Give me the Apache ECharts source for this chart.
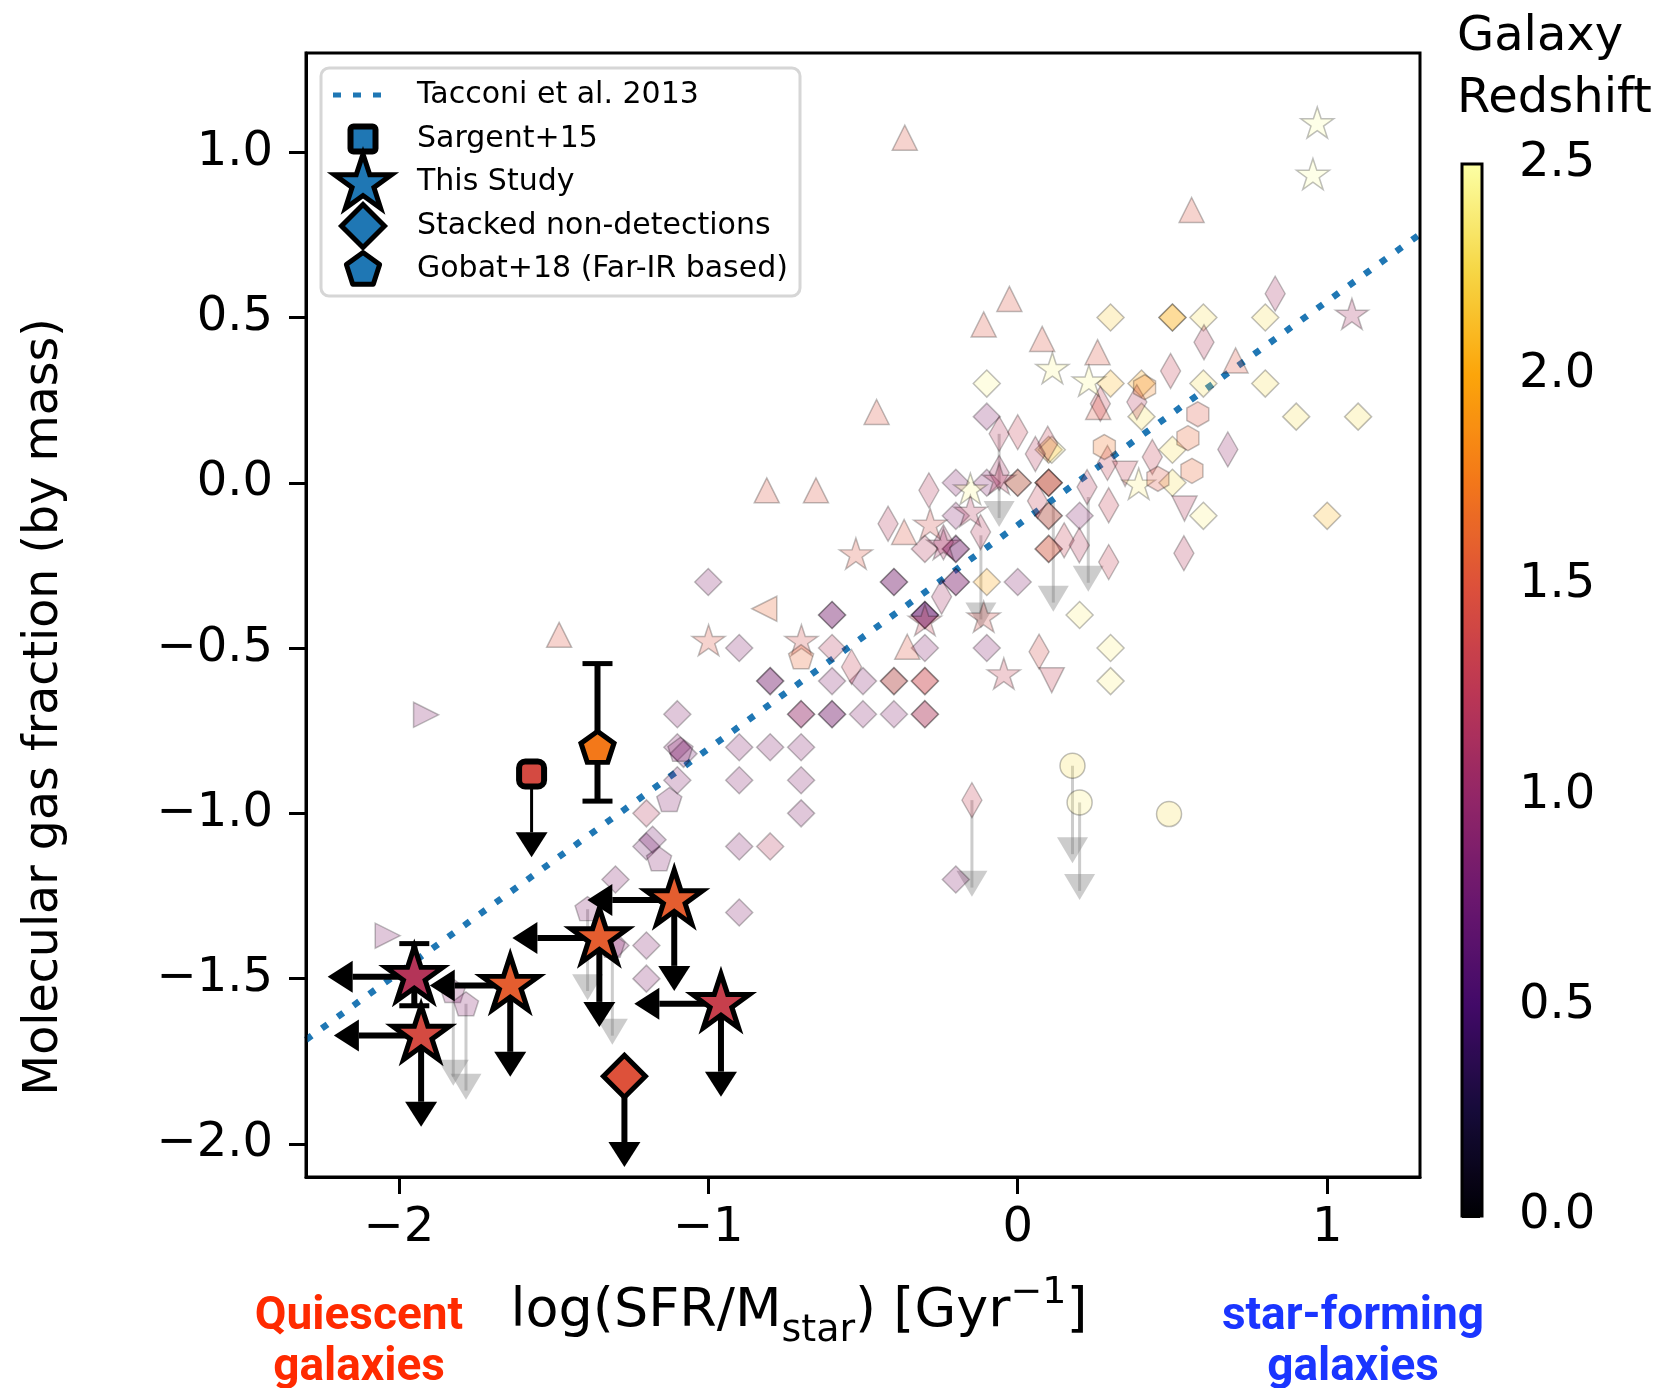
<!DOCTYPE html>
<html><head><meta charset="utf-8">
<script src="https://cdn.jsdelivr.net/npm/echarts@6/dist/echarts.min.js"></script>
<style>html,body{margin:0;padding:0;background:#fff}#c{width:1662px;height:1388px}</style>
</head><body><div id="c"></div>
<script>
// ---------------- data ----------------
const xTicks = [-2, -1, 0, 1];
const yTicks = [-2, -1.5, -1, -0.5, 0, 0.5, 1];
const zTicks = [0, 0.5, 1, 1.5, 2, 2.5];
const tacconiLine = [[-2.3, -1.685], [1.3, 0.752]];

// background literature points: [log sSFR, log fgas, redshift]
const bgDiamonds = [
 [0.3,0.5,2.2],[0.5,0.5,2.0],[0.5,0.5,2.1],[0.6,0.5,2.3],[0.8,0.5,2.3],
 [-0.1,0.3,2.45],[0.3,0.3,2.1],[0.4,0.3,2.0],[0.6,0.3,2.3],[0.8,0.3,2.3],
 [-0.1,0.2,0.9],[0.4,0.2,2.3],[0.9,0.2,2.3],[1.1,0.2,2.3],
 [0.1,0.1,2.0],[0.11,0.1,2.4],[0.5,0.1,2.3],
 [-0.2,0,0.9],[-0.1,0,0.9],[0,0,2.0],[0,0,0.9],[0.1,0,2.0],[0.1,0,0.8],[0.1,0,1.5],[0.5,0,2.3],
 [-0.2,-0.1,0.9],[0.1,-0.1,1.9],[0.1,-0.1,0.9],[0.2,-0.1,0.9],[0.6,-0.1,2.4],[1.0,-0.1,2.1],
 [-0.3,-0.2,1.2],[-0.2,-0.2,0.8],[-0.2,-0.2,0.8],[0.1,-0.2,1.8],[0.1,-0.2,1.2],
 [-1.0,-0.3,0.9],[-0.4,-0.3,0.8],[-0.4,-0.3,0.8],[-0.2,-0.3,0.8],[-0.2,-0.3,0.9],[-0.1,-0.3,2.0],[0,-0.3,0.9],
 [-0.6,-0.4,0.8],[-0.6,-0.4,0.8],[-0.3,-0.4,0.7],[-0.3,-0.4,0.7],[-0.3,-0.4,0.7],[0.2,-0.4,2.4],
 [-0.9,-0.5,0.9],[-0.6,-0.5,1.2],[-0.3,-0.5,0.9],[-0.1,-0.5,0.9],[0.3,-0.5,2.4],
 [-0.8,-0.6,0.8],[-0.8,-0.6,0.8],[-0.6,-0.6,0.9],[-0.5,-0.6,0.9],[-0.4,-0.6,1.8],[-0.4,-0.6,0.9],[-0.3,-0.6,1.3],[-0.3,-0.6,1.4],[0.3,-0.6,2.4],
 [-1.1,-0.7,0.9],[-0.7,-0.7,1.0],[-0.7,-0.7,1.0],[-0.6,-0.7,0.8],[-0.6,-0.7,0.8],[-0.5,-0.7,0.9],[-0.4,-0.7,0.9],[-0.3,-0.7,1.4],[-0.3,-0.7,1.0],
 [-1.1,-0.8,0.9],[-1.08,-0.82,0.8],[-0.9,-0.8,0.9],[-0.8,-0.8,0.9],[-0.7,-0.8,0.9],
 [-1.1,-0.9,0.9],[-0.9,-0.9,0.9],[-0.7,-0.9,0.9],
 [-1.2,-1.0,1.2],[-0.7,-1.0,0.9],
 [-1.2,-1.1,0.8],[-1.18,-1.08,0.8],[-0.9,-1.1,0.9],[-0.8,-1.1,1.2],
 [-1.3,-1.2,0.9],[-0.2,-1.2,0.9],
 [-0.9,-1.3,0.9],
 [-1.2,-1.4,0.9],[-1.3,-1.4,0.9],
 [-1.2,-1.5,0.9]
];
const bgThinDiamonds = [
 [0.832,0.572,1.1],[0.602,0.425,1.2],[0.494,0.338,1.3],[0.267,0.239,1.3],[0.385,0.244,1.2],
 [-0.06,0.148,1.2],[0.0,0.153,1.3],[0.097,0.118,1.3],[0.057,0.087,1.2],[0.679,0.101,1.0],
 [0.435,0.078,1.3],[0.29,0.06,1.3],[-0.06,0.03,1.1],[0.224,-0.013,1.2],[0.294,-0.068,1.3],
 [-0.287,-0.023,1.2],[-0.419,-0.124,1.2],[0.064,-0.055,1.3],[0.15,-0.174,1.3],[0.199,-0.189,1.2],
 [0.294,-0.24,1.3],[0.537,-0.213,1.2],[-0.12,-0.149,1.2],[-0.246,-0.345,1.1],[-0.24,-0.18,1.1],
 [-0.537,-0.557,1.3],[0.069,-0.511,1.4],[-0.148,-0.96,1.3]
];
const bgTriUp = [
 [-0.365,1.044,1.5],[0.562,0.825,1.5],[-0.027,0.556,1.5],[-0.11,0.479,1.5],[0.079,0.435,1.5],
 [0.258,0.395,1.5],[0.704,0.37,1.5],[-0.456,0.214,1.5],[0.26,0.229,1.5],[-0.811,-0.023,1.5],
 [-0.652,-0.023,1.5],[-0.367,-0.149,1.5],[-0.357,-0.496,1.5],[-1.482,-0.46,1.5]
];
const bgTriDown = [[0.539,-0.078,1.2],[0.11,-0.597,1.3],[0.347,0.027,1.3]];
const bgTriRight = [[-1.912,-0.702,0.9],[-2.036,-1.37,0.9]];
const bgTriLeft = [[-0.819,-0.381,1.6]];
const bgStars = [
 [0.968,1.085,2.5],[0.954,0.929,2.5],[0.112,0.342,2.45],[0.23,0.304,2.45],[-0.153,-0.023,2.45],
 [0.391,-0.008,2.4],[1.08,0.506,1.1],[-0.06,0.007,1.2],[-0.283,-0.129,1.4],[-0.153,-0.09,1.2],
 [-0.523,-0.219,1.5],[-0.999,-0.481,1.5],[-0.699,-0.481,1.4],[-0.11,-0.41,1.4],[-0.3,-0.42,1.3],
 [-0.045,-0.582,1.3],[-0.24,-0.19,1.1]
];
const bgPentagons = [
 [-1.126,-0.962,0.9],[-1.159,-1.141,0.9],[-1.39,-1.292,0.9],[-1.31,-1.403,0.9],
 [-1.826,-1.54,0.9],[-1.783,-1.58,0.9],[-0.70,-0.53,1.6],[-1.09,-0.81,0.9]
];
const bgHexagons = [[0.41,0.289,1.8],[0.582,0.207,1.5],[0.55,0.135,1.6],[0.563,0.036,1.6],[0.453,0.012,1.5],[0.28,0.108,1.7]];
const bgCircles = [[0.177,-0.856,2.3],[0.2,-0.967,2.4],[0.489,-1.002,2.3]];
// background upper limits: [x, yStart, x, yTip]
const bgLimits = [
 [-0.06,0.148,-0.06,-0.134],[-0.119,-0.159,-0.119,-0.441],[0.115,-0.06,0.115,-0.39],
 [0.228,-0.043,0.228,-0.33],[-0.148,-0.96,-0.148,-1.252],[0.177,-0.856,0.177,-1.151],
 [0.2,-0.967,0.2,-1.262],[-1.39,-1.29,-1.39,-1.565],[-1.31,-1.386,-1.31,-1.70],
 [-1.824,-1.538,-1.824,-1.824],[-1.783,-1.576,-1.783,-1.866]
];

// highlighted samples
const studyStars = [[-1.95,-1.494,1.2],[-1.928,-1.672,1.43],[-1.64,-1.521,1.58],[-1.352,-1.377,1.58],[-1.11,-1.262,1.58],[-0.959,-1.576,1.33]];
const studyLimits = [
 [-1.95,-1.494,-2.23,-1.494],
 [-1.928,-1.672,-2.21,-1.672],[-1.928,-1.672,-1.928,-1.948],
 [-1.64,-1.521,-1.90,-1.521],[-1.64,-1.521,-1.64,-1.797],
 [-1.352,-1.377,-1.633,-1.377],[-1.352,-1.377,-1.352,-1.646],
 [-1.11,-1.262,-1.391,-1.262],[-1.11,-1.262,-1.11,-1.537],
 [-0.959,-1.576,-1.239,-1.576],[-0.959,-1.576,-0.959,-1.857]
];
const sargent = [[-1.571,-0.881,1.43]];
const sargentLimit = [[-1.571,-0.881,-1.571,-1.133]];
const gobat = [[-1.358,-0.804,1.75]];
const stacked = [[-1.271,-1.795,1.5]];
const stackedLimit = [[-1.271,-1.795,-1.271,-2.07]];
// error bars: [x, yLow, yHigh]
const errBars = [[-1.95,-1.582,-1.394],[-1.358,-0.963,-0.547]];

// ---------------- styling helpers ----------------
const FONT = 'DejaVu Sans';
const INFERNO = ['#000004','#160b39','#420a68','#6a176e','#932667','#bc3754','#dd513a','#f37819','#fca50a','#f6d746','#fcffa4'];
const STAR_PATH = 'path://M100,0L77.55,69.1L4.9,69.1L63.67,111.8L41.22,180.9L100,138.2L158.78,180.9L136.33,111.8L195.1,69.1L122.45,69.1Z';
const PENT_PATH = 'path://M100,0L4.9,69.1L41.22,180.9L158.78,180.9L195.1,69.1Z';
const HEX_PATH = 'path://M100,0L13.4,50L13.4,150L100,200L186.6,150L186.6,50Z';
const fmt = v => (v < 0 ? '\u2212' : '') + Math.abs(v).toFixed(1);
const fmtInt = v => (v < 0 ? '\u2212' : '') + Math.abs(v).toFixed(0);

function bg(name, data, symbol, size, extra) {
  return Object.assign({
    type: 'scatter', name, data, symbol, symbolSize: size, z: 3, silent: true,
    itemStyle: { opacity: 0.25, borderColor: '#000', borderWidth: 1.5 }
  }, extra || {});
}
function arrowSeries(name, data, o) {
  return {
    type: 'custom', name, data, z: o.z, silent: true,
    encode: { x: [0, 2], y: [1, 3] },
    renderItem: function (params, api) {
      const p0 = api.coord([api.value(0), api.value(1)]);
      const p1 = api.coord([api.value(2), api.value(3)]);
      const dx = p1[0] - p0[0], dy = p1[1] - p0[1];
      const L = Math.hypot(dx, dy), ux = dx / L, uy = dy / L;
      const bx = p1[0] - ux * o.headLen, by = p1[1] - uy * o.headLen;
      const ex = p1[0] - ux * o.headLen * o.into, ey = p1[1] - uy * o.headLen * o.into;
      const hw = o.headW / 2;
      return { type: 'group', children: [
        { type: 'line', shape: { x1: p0[0], y1: p0[1], x2: ex, y2: ey },
          style: { stroke: o.color, lineWidth: o.lw, opacity: o.opacity } },
        { type: 'polygon', shape: { points: [[p1[0], p1[1]], [bx - uy * hw, by + ux * hw], [bx + uy * hw, by - ux * hw]] },
          style: { fill: o.color, opacity: o.opacity } }
      ]};
    }
  };
}
const errSeries = {
  type: 'custom', name: 'errors', data: errBars, z: 5, silent: true,
  encode: { x: 0, y: [1, 2] },
  renderItem: function (params, api) {
    const lo = api.coord([api.value(0), api.value(1)]);
    const hi = api.coord([api.value(0), api.value(2)]);
    const cw = 15;
    return { type: 'group', children: [
      { type: 'line', shape: { x1: lo[0], y1: lo[1], x2: hi[0], y2: hi[1] }, style: { stroke: '#000', lineWidth: 6 } },
      { type: 'line', shape: { x1: lo[0] - cw, y1: lo[1], x2: lo[0] + cw, y2: lo[1] }, style: { stroke: '#000', lineWidth: 5 } },
      { type: 'line', shape: { x1: hi[0] - cw, y1: hi[1], x2: hi[0] + cw, y2: hi[1] }, style: { stroke: '#000', lineWidth: 5 } }
    ]};
  }
};

// ---------------- legend (decoration) ----------------
function starPts(cx, cy, R, r) {
  const p = [];
  for (let k = 0; k < 10; k++) {
    const a = (90 + k * 36) * Math.PI / 180, rad = k % 2 ? r : R;
    p.push([cx + rad * Math.cos(a), cy - rad * Math.sin(a)]);
  }
  return p;
}
function polyPts(cx, cy, R, n) {
  const p = [];
  for (let k = 0; k < n; k++) {
    const a = (90 + k * 360 / n) * Math.PI / 180;
    p.push([cx + R * Math.cos(a), cy - R * Math.sin(a)]);
  }
  return p;
}
const LX = 363, legendRows = [95, 139, 182, 226, 269];
const legendLabels = ['Tacconi et al. 2013', 'Sargent+15', 'This Study', 'Stacked non-detections', 'Gobat+18 (Far-IR based)'];
const BLUE = '#1f77b4';
const graphics = [
  { type: 'rect', z: 100, shape: { x: 321, y: 68, width: 479, height: 228, r: 8 },
    style: { fill: 'rgba(255,255,255,0.85)', stroke: '#d6d6d6', lineWidth: 3 } },
  { type: 'line', z: 101, shape: { x1: 333, y1: legendRows[0], x2: 393, y2: legendRows[0] },
    style: { stroke: BLUE, lineWidth: 5, lineDash: [8, 12] } },
  { type: 'rect', z: 101, shape: { x: LX - 12.5, y: legendRows[1] - 12.5, width: 25, height: 25, r: 3 },
    style: { fill: BLUE, stroke: '#000', lineWidth: 6, lineJoin: 'round' } },
  { type: 'polygon', z: 101, shape: { points: starPts(LX, legendRows[2] + 2, 30, 11.5) },
    style: { fill: BLUE, stroke: '#000', lineWidth: 5, lineJoin: 'miter' } },
  { type: 'polygon', z: 101, shape: { points: [[LX, legendRows[3] - 21.5], [LX + 21.5, legendRows[3]], [LX, legendRows[3] + 21.5], [LX - 21.5, legendRows[3]]] },
    style: { fill: BLUE, stroke: '#000', lineWidth: 5 } },
  { type: 'polygon', z: 101, shape: { points: polyPts(LX, legendRows[4] + 1, 17.5, 5) },
    style: { fill: BLUE, stroke: '#000', lineWidth: 5, lineJoin: 'round' } }
];
legendLabels.forEach((t, i) => graphics.push({
  type: 'text', z: 101, x: 417, y: legendRows[i],
  style: { text: t, fontSize: 30, fontFamily: FONT, fill: '#000', align: 'left', verticalAlign: 'middle', textAlign: 'left', textVerticalAlign: 'middle' }
}));
[['Galaxy', 38], ['Redshift', 100]].forEach(([t, y]) => graphics.push({
  type: 'text', z: 101, x: 1457, y: y,
  style: { text: t, fontSize: 48, fontFamily: FONT, fill: '#000', align: 'left', verticalAlign: 'middle', textAlign: 'left', textVerticalAlign: 'middle' }
}));
[['Quiescent', 359, 1317, '#ff2a00'], ['galaxies', 359, 1368, '#ff2a00'],
 ['star-forming', 1353, 1317, '#1a35ff'], ['galaxies', 1353, 1368, '#1a35ff']].forEach(([t, x, y, c]) => graphics.push({
  type: 'text', z: 101, x: x, y: y,
  style: { text: t, fontSize: 46, fontFamily: 'Roboto', fontWeight: 'bold', fill: c, align: 'center', verticalAlign: 'middle', textAlign: 'center', textVerticalAlign: 'middle' }
}));

// ---------------- chart ----------------
const chart = echarts.init(document.getElementById('c'), null, { renderer: 'canvas' });
const axisTxt = { fontSize: 48, fontFamily: FONT, color: '#000' };
chart.setOption({
  animation: false,
  backgroundColor: '#fff',
  grid: [
    { left: 306, top: 53, width: 1114, height: 1124, show: true, borderColor: '#000', borderWidth: 3, z: 8 },
    { left: 1462, top: 164, width: 20, height: 1052, show: true, borderColor: '#000', borderWidth: 3, z: 8 }
  ],
  xAxis: [
    { type: 'value', gridIndex: 0, min: -2.3, max: 1.3,
      axisLine: { show: true, onZero: false, lineStyle: { color: '#000', width: 3 } },
      axisTick: { show: true, customValues: xTicks, length: 17, lineStyle: { color: '#000', width: 3 } },
      axisLabel: Object.assign({ customValues: xTicks, margin: 28, formatter: fmtInt, lineHeight: 48 }, axisTxt),
      splitLine: { show: false },
      name: '{m|log(SFR/M}{s|star}{m|) [Gyr}{p|\u22121}{m|]}',
      nameLocation: 'middle', nameGap: 97,
      nameTextStyle: { padding: [0, 128, 0, 0], rich: {
        m: { fontSize: 54, lineHeight: 76, fontFamily: FONT, color: '#000' },
        s: { fontSize: 38, lineHeight: 37, verticalAlign: 'bottom', fontFamily: FONT, color: '#000' },
        p: { fontSize: 38, lineHeight: 49, verticalAlign: 'top', fontFamily: FONT, color: '#000' } } } },
    { type: 'value', gridIndex: 1, min: 0, max: 1, show: false }
  ],
  yAxis: [
    { type: 'value', gridIndex: 0, min: -2.1, max: 1.3,
      axisLine: { show: true, onZero: false, lineStyle: { color: '#000', width: 3 } },
      axisTick: { show: true, customValues: yTicks, length: 17, lineStyle: { color: '#000', width: 3 } },
      axisLabel: Object.assign({ customValues: yTicks, margin: 33, formatter: fmt, padding: [6, 0, 0, 0] }, axisTxt),
      splitLine: { show: false },
      name: 'Molecular gas fraction (by mass)', nameLocation: 'middle', nameGap: 237,
      nameTextStyle: { fontSize: 47.5, fontFamily: FONT, color: '#000', padding: [0, 184, 0, 0] } },
    { type: 'value', gridIndex: 1, min: 0, max: 2.5, interval: 0.5, position: 'right',
      axisLine: { show: false },
      axisTick: { show: true, length: 18, lineStyle: { color: '#000', width: 3 } },
      axisLabel: Object.assign({ margin: 37, formatter: v => v.toFixed(1), padding: [10, 0, 0, 0] }, axisTxt),
      splitLine: { show: false } }
  ],
  visualMap: {
    type: 'continuous', min: 0, max: 2.5, dimension: 2,
    seriesIndex: [1, 2, 3, 4, 5, 6, 7, 8, 9, 10, 14, 15, 16, 17],
    inRange: { color: INFERNO },
    left: 1462, top: 164, itemWidth: 20, itemHeight: 1052,
    padding: 0, calculable: false, hoverLink: false, text: null, showLabel: false, z: 4
  },
  graphic: graphics,
  series: [
    { type: 'line', name: 'Tacconi et al. 2013', data: tacconiLine, showSymbol: false, symbol: 'none', z: 2, silent: true,
      lineStyle: { color: BLUE, width: 6.5, type: [7, 12.5], cap: 'butt' } },
    bg('diamonds', bgDiamonds, 'diamond', 27),
    bg('thin diamonds', bgThinDiamonds, 'diamond', [20, 35]),
    bg('triangles up', bgTriUp, 'triangle', [25, 25]),
    bg('triangles down', bgTriDown, 'triangle', [25, 25], { symbolRotate: 180 }),
    bg('triangles right', bgTriRight, 'triangle', [25, 25], { symbolRotate: -90 }),
    bg('triangles left', bgTriLeft, 'triangle', [25, 25], { symbolRotate: 90 }),
    bg('stars', bgStars, STAR_PATH, [33, 31], { symbolOffset: [0, '-5.3%'] }),
    bg('pentagons', bgPentagons, PENT_PATH, [25, 24], { symbolOffset: [0, '-5.3%'] }),
    bg('hexagons', bgHexagons, HEX_PATH, [22, 25]),
    bg('circles', bgCircles, 'circle', 25),
    arrowSeries('bg limits', bgLimits, { z: 3, color: '#808080', opacity: 0.4, lw: 3, headLen: 26, headW: 31, into: 0.35 }),
    arrowSeries('study limits', studyLimits.concat(stackedLimit), { z: 5, color: '#000', opacity: 1, lw: 6, headLen: 25, headW: 32, into: 1 }),
    arrowSeries('sargent limit', sargentLimit, { z: 5, color: '#000', opacity: 1, lw: 3, headLen: 25, headW: 32, into: 1 }),
    { type: 'scatter', name: 'This Study', data: studyStars, symbol: STAR_PATH, symbolSize: [57, 54], symbolOffset: [0, '-5.3%'], z: 7, silent: true,
      itemStyle: { borderColor: '#000', borderWidth: 5, opacity: 1 } },
    { type: 'scatter', name: 'Sargent+15', data: sargent, symbol: 'roundRect', symbolSize: 25, z: 7, silent: true,
      itemStyle: { borderColor: '#000', borderWidth: 6, opacity: 1 } },
    { type: 'scatter', name: 'Gobat+18', data: gobat, symbol: PENT_PATH, symbolSize: [33, 31], symbolOffset: [0, '-5.3%'], z: 7, silent: true,
      itemStyle: { borderColor: '#000', borderWidth: 5, opacity: 1 } },
    { type: 'scatter', name: 'Stacked non-detections', data: stacked, symbol: 'diamond', symbolSize: 42, z: 7, silent: true,
      itemStyle: { borderColor: '#000', borderWidth: 5, opacity: 1 } },
    errSeries
  ]
});
</script>
</body></html>
